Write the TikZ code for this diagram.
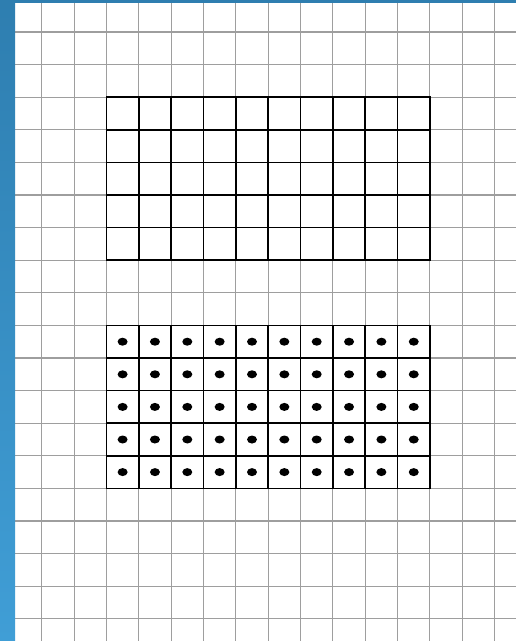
\documentclass[tikz,border=0pt]{standalone}
\begin{document}
\begin{tikzpicture}[x=1pt,y=-1pt,
  thingrid/.style={draw=black!38,line width=1.1pt},
  boldgrid/.style={draw=black,line width=1.7pt},
  cellpoint/.style={fill=black}]
\definecolor{striptop}{RGB}{46,126,176}
\definecolor{stripbot}{RGB}{64,158,214}
\useasboundingbox (0,0) rectangle (516,641);
\fill[white] (0,0) rectangle (516,641);
% thin background grid
\foreach \k in {1,...,15} {
  \pgfmathsetmacro{\xx}{9.35+32.35*\k}
  \draw[thingrid] (\xx,0) -- (\xx,641);
}
\foreach \k in {1,...,19} {
  \pgfmathsetmacro{\yy}{-0.6+32.6*\k}
  \draw[thingrid] (0,\yy) -- (516,\yy);
}
% upper bold block
\foreach \k in {3,...,13} {
  \pgfmathsetmacro{\xx}{9.35+32.35*\k}
  \draw[boldgrid] (\xx,97.2) -- (\xx,260.2);
}
\foreach \k in {3,...,8} {
  \pgfmathsetmacro{\yy}{-0.6+32.6*\k}
  \draw[boldgrid,line cap=rect] (106.4,\yy) -- (429.9,\yy);
}
% lower bold block with dots
\foreach \k in {3,...,13} {
  \pgfmathsetmacro{\xx}{9.35+32.35*\k}
  \draw[boldgrid] (\xx,325.4) -- (\xx,488.4);
}
\foreach \k in {10,...,15} {
  \pgfmathsetmacro{\yy}{-0.6+32.6*\k}
  \draw[boldgrid,line cap=rect] (106.4,\yy) -- (429.9,\yy);
}
\foreach \i in {3,...,12} {
  \foreach \j in {10,...,14} {
    \pgfmathsetmacro{\cx}{9.35+32.35*\i+16.2}
    \pgfmathsetmacro{\cy}{-0.6+32.6*\j+16.3}
    \fill[cellpoint] (\cx,\cy) ellipse (5 and 4);
  }
}
% blue frame strips
\shade[top color=striptop,bottom color=stripbot] (0,0) rectangle (15,641);
\fill[striptop] (0,0) rectangle (516,3);
\end{tikzpicture}
\end{document}
